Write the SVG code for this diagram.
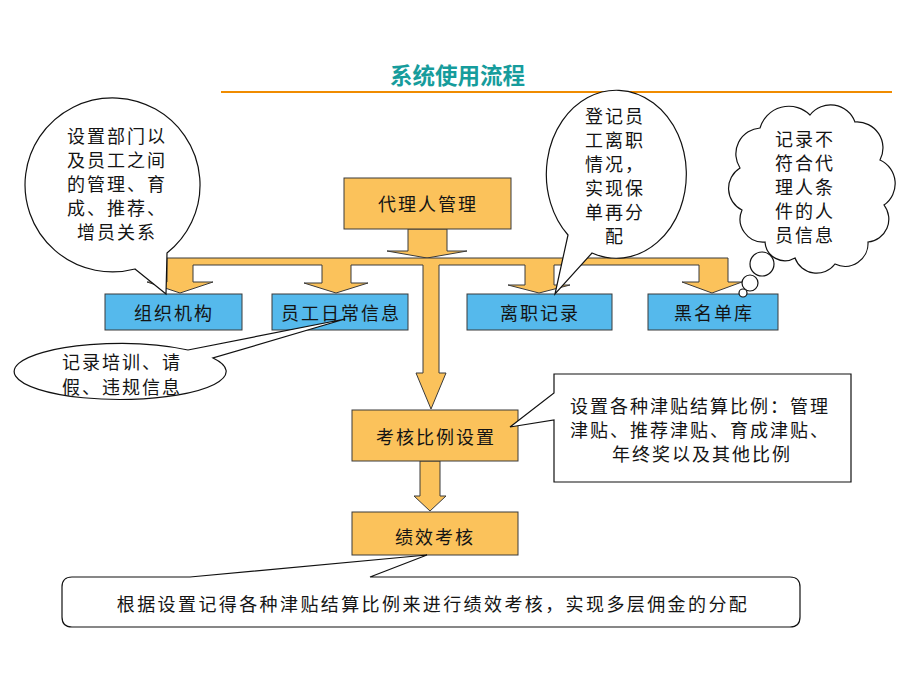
<svg xmlns="http://www.w3.org/2000/svg" width="920" height="690" viewBox="0 0 920 690">
<style>
.t{font-family:"Noto Sans CJK SC","Noto Sans CJK JP",sans-serif;font-size:18px;fill:#141414;letter-spacing:2px}
.c{text-anchor:middle}
.org{fill:#FBC25B;stroke:#3a3a3a;stroke-width:1}
.blue{fill:#55B9EC;stroke:#3a3a3a;stroke-width:1}
.call{fill:#ffffff;stroke:#111;stroke-width:1.2}
.title{font-family:"Noto Sans CJK SC",sans-serif;font-size:22.5px;font-weight:bold;fill:#169C9C}
</style>
<rect width="920" height="690" fill="#ffffff"/>
<g id="title">
<text class="title" x="390" y="84">系统使用流程</text>
<line x1="221" y1="92" x2="892" y2="92" stroke="#F08C00" stroke-width="2"/>
</g>
<g id="connectors">
<path class="org" d="M408,229 H447 V251 H467 L427,258 L387,251 H408 Z"/>
<path class="org" d="M167,258 H728 V282 H742 L712,293 L682,282 H699 V265 H554 V285 H570 L539,293 L508,285 H525 V265 H439 V373 H446 L431,409 L416,373 H423 V265 H351 V283 H368 L336,293 L304,283 H322 V265 H193 V282 H213 L180,293 L147,282 H167 Z"/>
<path class="org" d="M420,461 H440 V496 H446 L430,511 L414,496 H420 Z"/>
</g>
<g id="n_dailiren">
<rect class="org" x="344" y="178" width="167" height="51"/>
<text class="t c" x="428" y="211">代理人管理</text>
</g>
<g id="n_zuzhi">
<rect class="blue" x="105" y="294" width="137" height="36"/>
<text class="t c" x="174" y="320">组织机构</text>
</g>
<g id="n_yuangong">
<rect class="blue" x="272" y="294" width="136" height="36"/>
<text class="t c" x="341" y="320">员工日常信息</text>
</g>
<g id="n_lizhi">
<rect class="blue" x="467" y="294" width="145" height="36"/>
<text class="t c" x="540" y="320">离职记录</text>
</g>
<g id="n_heimingdan">
<rect class="blue" x="648" y="294" width="130" height="36"/>
<text class="t c" x="714" y="320">黑名单库</text>
</g>
<g id="n_kaohebili">
<rect class="org" x="352" y="410" width="166" height="51"/>
<text class="t c" x="436" y="444">考核比例设置</text>
</g>
<g id="n_jixiao">
<rect class="org" x="352" y="512" width="166" height="43"/>
<text class="t c" x="435" y="544">绩效考核</text>
</g>
<g id="callout_zuzhi">
<path class="call" d="M135,269 L166,294 L167,253 A87.5 87 0 1 0 135,269 Z"/>
<text class="t" x="67" y="143">设置部门以</text>
<text class="t" x="67" y="167">及员工之间</text>
<text class="t" x="67" y="191">的管理、育</text>
<text class="t" x="67" y="215">成、推荐、</text>
<text class="t" x="77" y="239">增员关系</text>
</g>
<g id="callout_lizhi">
<path class="call" d="M568,235 L555,294 L592,253 A70 84 0 1 0 568,235 Z"/>
<text class="t" x="585" y="123">登记员</text>
<text class="t" x="585" y="147">工离职</text>
<text class="t" x="585" y="171">情况，</text>
<text class="t" x="585" y="195">实现保</text>
<text class="t" x="585" y="219">单再分</text>
<text class="t" x="605" y="243">配</text>
</g>
<g id="callout_heimingdan">
<path class="call" d="M760,128 A30 30 0 0 1 810,115 A26 26 0 0 1 855,122 A26 26 0 0 1 880,160 A26 26 0 0 1 884,205 A23 23 0 0 1 868,242 A23 23 0 0 1 835,264 A23 23 0 0 1 795,258 A20 20 0 0 1 765,242 A23 23 0 0 1 742,210 A24 24 0 0 1 740,168 A26 26 0 0 1 760,128 Z"/>
<circle class="call" cx="762" cy="264" r="12"/>
<circle class="call" cx="750" cy="283" r="8"/>
<circle class="call" cx="743" cy="293" r="4"/>
<text class="t" x="775" y="146">记录不</text>
<text class="t" x="775" y="170">符合代</text>
<text class="t" x="775" y="194">理人条</text>
<text class="t" x="775" y="218">件的人</text>
<text class="t" x="775" y="242">员信息</text>
</g>
<g id="callout_yuangong">
<path class="call" d="M188,350 L345,319 L213,358 A106 28 0 1 1 188,350 Z"/>
<text class="t" x="62" y="369">记录培训、请</text>
<text class="t" x="62" y="394">假、违规信息</text>
</g>
<g id="callout_kaohebili">
<path class="call" d="M554,374 H851 V482 H554 V420 L510,427 L554,393 Z"/>
<text class="t" x="570" y="413">设置各种津贴结算比例：管理</text>
<text class="t" x="570" y="437">津贴、推荐津贴、育成津贴、</text>
<text class="t" x="612" y="461">年终奖以及其他比例</text>
</g>
<g id="callout_jixiao">
<path class="call" d="M72,577 H190 L427,555 L370,577 H790 Q800,577 800,587 V617 Q800,627 790,627 H72 Q62,627 62,617 V587 Q62,577 72,577 Z"/>
<text class="t c" x="433" y="611" style="letter-spacing:2.4px">根据设置记得各种津贴结算比例来进行绩效考核，实现多层佣金的分配</text>
</g>
</svg>
